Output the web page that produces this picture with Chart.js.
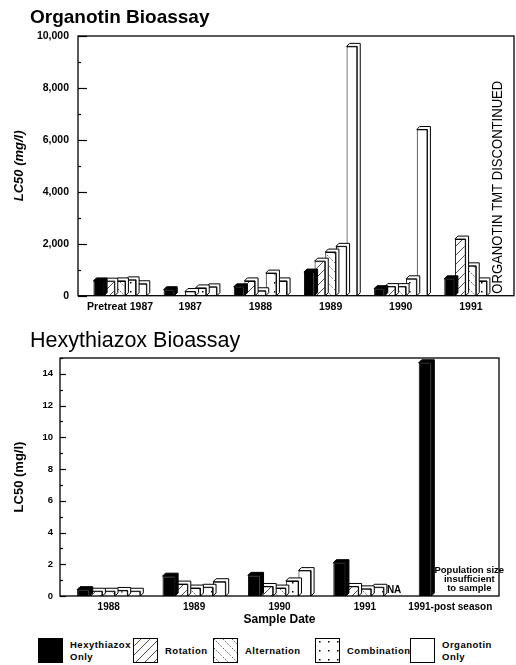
<!DOCTYPE html>
<html>
<head>
<meta charset="utf-8">
<script src="https://cdn.jsdelivr.net/npm/chart.js@4.4.0/dist/chart.umd.min.js"></script>
<style>
  body { margin: 0; background: #fff; }
  #page { position: relative; width: 516px; height: 665px; font-family: "Liberation Sans", Arial, sans-serif; color: #000; }
  .box { position: absolute; left: 0; width: 516px; }
  #box1 { top: 0; height: 318px; }
  #box2 { top: 318px; height: 310px; }
  .title { position: absolute; left: 30px; margin: 0; line-height: 1; }
  #title1 { top: 7px; font-size: 19px; font-weight: bold; }
  #title2 { top: 330px; font-size: 21.5px; font-weight: normal; }
  #legend { position: absolute; left: 0; top: 638px; width: 516px; height: 27px; font-size: 9.5px; font-weight: bold; line-height: 12px; letter-spacing: 0.5px; }
  .item { position: absolute; top: 0; display: flex; align-items: center; height: 25px; }
  .item canvas { margin-right: 7px; }
</style>
</head>
<body>
<div id="page">
  <div class="box" id="box1"><canvas id="organotinChart"></canvas></div>
  <div class="box" id="box2"><canvas id="hexyChart"></canvas></div>
  <div class="title" id="title1">Organotin Bioassay</div>
  <div class="title" id="title2">Hexythiazox Bioassay</div>
  <div id="legend"></div>
</div>
<script>
// Series (same order in both charts)
const seriesNames = ['Hexythiazox Only', 'Rotation', 'Alternation', 'Combination', 'Organotin Only'];

// Organotin bioassay, LC50 (mg/l)
const organotinDates = ['Pretreat 1987', '1987', '1988', '1989', '1990', '1991'];
const orgHexythiazox = [570, 230, 340, 910, 270, 650];
const orgRotation    = [560, null, 570, 1330, 350, 2180];
const orgAlternation = [570, 160, 190, 1680, 350, 1150];
const orgCombination = [610, 300, 870, 1900, 650, 570];
const orgOrganotin   = [460, 340, 570, 9600, 6400, null];
const organotinTicks = [0, 2000, 4000, 6000, 8000, 10000];

// Hexythiazox bioassay, LC50 (mg/l)
const hexyDates = ['1988', '1989', '1990', '1991', '1991-post season'];
const hexHexythiazox = [0.4, 1.25, 1.3, 2.1, 14.7];
const hexRotation    = [0.3, 0.75, 0.6, 0.6, null];
const hexAlternation = [0.3, 0.5, 0.5, 0.45, null];
const hexCombination = [0.35, 0.55, 0.95, 0.55, null];
const hexOrganotin   = [0.3, 0.9, 1.6, null, null];
const hexyTicks = [0, 2, 4, 6, 8, 10, 12, 14];

const FONT = '"Liberation Sans", Arial, sans-serif';
const legendLeft = [38, 133, 213, 315, 410];

// Fill patterns for the bars
function makeFill(kind) {
  if (kind === 'solid') return '#000';
  const tile = document.createElement('canvas');
  tile.width = 9; tile.height = 9;
  const g = tile.getContext('2d');
  g.fillStyle = '#fff';
  g.fillRect(0, 0, 9, 9);
  g.strokeStyle = '#000';
  g.lineWidth = 0.7;
  if (kind === 'rotation') {
    g.beginPath(); g.moveTo(-1, 10); g.lineTo(10, -1); g.stroke();
  } else if (kind === 'alternation') {
    g.setLineDash([1.5, 1.5]);
    g.beginPath(); g.moveTo(-1, -1); g.lineTo(10, 10); g.stroke();
  } else if (kind === 'combination') {
    g.fillStyle = '#000';
    g.fillRect(4, 3, 1.5, 1.5);
  }
  return g.createPattern(tile, 'repeat');
}
const fills = ['solid', 'rotation', 'alternation', 'combination', 'white'].map(makeFill);

function buildSets(values, catPct) {
  return seriesNames.map((name, i) => ({
    label: name,
    data: values[i],
    backgroundColor: fills[i],
    borderColor: '#000',
    borderWidth: 1,
    barPercentage: 1,
    categoryPercentage: catPct
  }));
}

// Fake 3D: side and top faces behind each bar (next series draws over it)
const depthPlugin = {
  id: 'depth',
  afterDatasetDraw(chart, args, opts) {
    const { ctx } = chart;
    const d = opts.size;
    const solid = args.index === 0;
    ctx.save();
    ctx.lineWidth = 1;
    ctx.strokeStyle = '#000';
    ctx.fillStyle = solid ? '#000' : '#fff';
    args.meta.data.forEach(bar => {
      if (bar.skip || isNaN(bar.y)) return;
      const r = bar.x + bar.width / 2, l = bar.x - bar.width / 2;
      if (bar.base - bar.y < 1) return;
      ctx.beginPath();
      ctx.moveTo(l, bar.y);
      ctx.lineTo(l + d, bar.y - d);
      ctx.lineTo(r + d, bar.y - d);
      ctx.lineTo(r + d, bar.base - d);
      ctx.lineTo(r, bar.base);
      ctx.lineTo(r, bar.y);
      ctx.closePath();
      ctx.fill();
      ctx.stroke();
    });
    ctx.restore();
  }
};

// Frame round the plot plus inward tick marks on the y axis
const framePlugin = {
  id: 'frame',
  afterDraw(chart, args, opts) {
    const { ctx, chartArea: a, scales: { y } } = chart;
    const left = a.left - opts.padLeft;
    const right = a.right + opts.padRight;
    ctx.save();
    ctx.strokeStyle = '#000';
    ctx.lineWidth = 1.3;
    ctx.strokeRect(left, a.top, right - left, a.bottom - a.top);
    ctx.lineWidth = 1.2;
    for (let v = 0; v <= y.max; v += opts.minor) {
      const py = Math.round(y.getPixelForValue(v)) + 0.5;
      const len = (v % opts.major === 0) ? opts.majorLen : opts.minorLen;
      ctx.beginPath();
      ctx.moveTo(left, py);
      ctx.lineTo(left + len, py);
      ctx.stroke();
    }
    ctx.restore();
  }
};

// Text notes placed on the category scale
const notesPlugin = {
  id: 'notes',
  afterDatasetsDraw(chart, args, opts) {
    const { ctx, scales: { x, y } } = chart;
    ctx.save();
    ctx.fillStyle = '#000';
    (opts.items || []).forEach(n => {
      const px = x.getPixelForValue(n.cat) + n.dx;
      const py = y.getPixelForValue(0) + n.dy;
      ctx.font = n.font;
      if (n.rotate) {
        ctx.translate(px, py);
        ctx.rotate(-Math.PI / 2);
        ctx.textAlign = 'left';
        ctx.textBaseline = 'middle';
        ctx.fillText(n.text, 0, 0, n.maxWidth);
        ctx.setTransform(1, 0, 0, 1, 0, 0);
      } else {
        ctx.textAlign = n.align;
        ctx.textBaseline = 'middle';
        n.text.split('\n').forEach((line, i) => ctx.fillText(line, px, py + i * n.lineHeight));
      }
    });
    ctx.restore();
  }
};

function makeChart(id, labels, sets, cfg) {
  return new Chart(document.getElementById(id), {
    type: 'bar',
    data: { labels: labels, datasets: sets },
    plugins: [depthPlugin, framePlugin, notesPlugin],
    options: {
      responsive: true,
      maintainAspectRatio: false,
      animation: false,
      layout: { padding: { top: cfg.top, right: cfg.right, left: 0, bottom: 0 } },
      plugins: {
        legend: { display: false },
        tooltip: { enabled: false },
        depth: { size: 3 },
        frame: cfg.frame,
        notes: { items: cfg.notes }
      },
      scales: {
        x: {
          grid: { display: false, drawTicks: false },
          border: { display: false },
          ticks: { color: '#000', font: { family: FONT, size: cfg.xFont, weight: 'bold' }, padding: 5, maxRotation: 0, autoSkip: false },
          title: cfg.xTitle,
          afterFit: s => { s.height = cfg.xHeight; }
        },
        y: {
          min: 0,
          max: cfg.max,
          grid: { display: false, drawTicks: false },
          border: { display: false },
          afterBuildTicks: s => { s.ticks = cfg.ticks.map(v => ({ value: v })); },
          ticks: {
            color: '#000',
            font: { family: FONT, size: cfg.yFont, weight: 'bold' },
            padding: cfg.yPad,
            callback: v => v.toLocaleString('en-US')
          },
          title: {
            display: true,
            text: 'LC50 (mg/l)',
            color: '#000',
            font: { family: FONT, size: 13, style: cfg.yTitleStyle, weight: 'bold' },
            padding: { top: 12, bottom: 0 }
          },
          afterFit: s => { s.width = cfg.yWidth; }
        }
      }
    }
  });
}

makeChart('organotinChart', organotinDates,
  buildSets([orgHexythiazox, orgRotation, orgAlternation, orgCombination, orgOrganotin], 0.76), {
    top: 36, right: 10, xHeight: 21, yWidth: 85, yPad: 16, max: 10000, ticks: organotinTicks,
    xFont: 10.5, yFont: 10.5, yTitleStyle: 'italic',
    xTitle: { display: false },
    frame: { padLeft: 7, padRight: 8, minor: 1000, major: 2000, majorLen: 9, minorLen: 3 },
    notes: [
      { text: 'ORGANOTIN TMT DISCONTINUED', cat: 5, dx: 27, dy: -2, rotate: true, maxWidth: 213, font: '14px ' + FONT }
    ]
  });

makeChart('hexyChart', hexyDates,
  buildSets([hexHexythiazox, hexRotation, hexAlternation, hexCombination, hexOrganotin], 0.74), {
    top: 40, right: 23, xHeight: 32, yWidth: 66, yPad: 13, max: 15, ticks: hexyTicks,
    xFont: 10, yFont: 9.5, yTitleStyle: 'normal',
    xTitle: { display: true, text: 'Sample Date', color: '#000', font: { family: FONT, size: 12, weight: 'bold' }, padding: { top: 0, bottom: 1 } },
    frame: { padLeft: 6, padRight: 6, minor: 1, major: 2, majorLen: 6, minorLen: 3 },
    notes: [
      { text: 'NA', cat: 3, dx: 22, dy: -6, align: 'left', lineHeight: 9, font: 'bold 10px ' + FONT },
      { text: 'Population size\ninsufficient\nto sample', cat: 4, dx: 19, dy: -26, align: 'center', lineHeight: 9, font: 'bold 9.5px ' + FONT }
    ]
  });

// Legend
const legend = document.getElementById('legend');
seriesNames.forEach((name, i) => {
  const item = document.createElement('div');
  item.className = 'item';
  item.style.left = legendLeft[i] + 'px';
  const sw = document.createElement('canvas');
  sw.width = 25; sw.height = 25;
  const g = sw.getContext('2d');
  g.fillStyle = fills[i];
  g.fillRect(0.5, 0.5, 24, 24);
  g.strokeStyle = '#000';
  g.lineWidth = 1;
  g.strokeRect(0.5, 0.5, 24, 24);
  const txt = document.createElement('span');
  txt.innerHTML = name.replace(' Only', '<br>Only');
  item.appendChild(sw);
  item.appendChild(txt);
  legend.appendChild(item);
});
</script>
</body>
</html>
